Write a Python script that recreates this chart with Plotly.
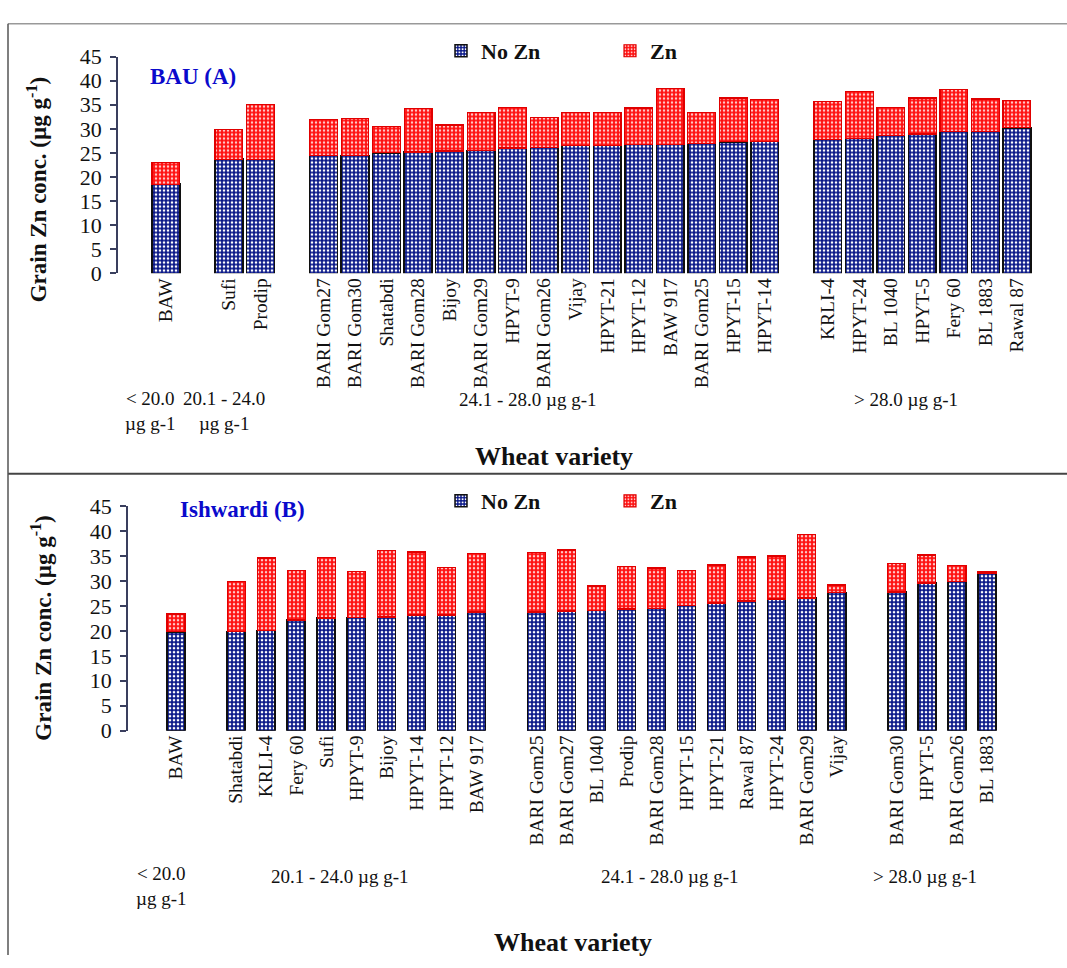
import plotly.graph_objects as go

# ---- data -------------------------------------------------------------
# BAU (A): varieties grouped by grain Zn concentration class (no Zn applied)
bau_groups = [1, 2, 15, 7]
bau_varieties = ["BAW", "Sufi", "Prodip",
                 "BARI Gom27", "BARI Gom30", "Shatabdi", "BARI Gom28", "Bijoy",
                 "BARI Gom29", "HPYT-9", "BARI Gom26", "Vijay", "HPYT-21",
                 "HPYT-12", "BAW 917", "BARI Gom25", "HPYT-15", "HPYT-14",
                 "KRLI-4", "HPYT-24", "BL 1040", "HPYT-5", "Fery 60", "BL 1883",
                 "Rawal 87"]
bau_no_zn = [18.5, 23.7, 23.7,
             24.5, 24.5, 25.0, 25.2, 25.4, 25.5, 26.0, 26.2, 26.5, 26.5,
             26.8, 26.8, 27.0, 27.3, 27.4,
             27.8, 28.0, 28.6, 28.9, 29.4, 29.5, 30.2]
bau_with_zn = [23.0, 29.9, 35.0,
               32.0, 32.1, 30.5, 34.2, 30.8, 33.3, 34.4, 32.4, 33.3, 33.3,
               34.3, 38.3, 33.4, 36.4, 36.0,
               35.6, 37.7, 34.5, 36.4, 38.2, 36.2, 35.8]
bau_classes = ["< 20.0<br>µg g-1", "20.1 - 24.0<br>µg g-1",
               "24.1 - 28.0 µg g-1", "> 28.0 µg g-1"]

# Ishwardi (B)
ish_groups = [1, 9, 11, 4]
ish_varieties = ["BAW",
                 "Shatabdi", "KRLI-4", "Fery 60", "Sufi", "HPYT-9", "Bijoy",
                 "HPYT-14", "HPYT-12", "BAW 917",
                 "BARI Gom25", "BARI Gom27", "BL 1040", "Prodip", "BARI Gom28",
                 "HPYT-15", "HPYT-21", "Rawal 87", "HPYT-24", "BARI Gom29", "Vijay",
                 "BARI Gom30", "HPYT-5", "BARI Gom26", "BL 1883"]
ish_no_zn = [19.8,
             19.9, 20.1, 22.2, 22.6, 22.7, 22.8, 23.2, 23.2, 23.8,
             23.8, 24.0, 24.1, 24.4, 24.5, 25.1, 25.6, 26.0, 26.4, 26.6, 27.7,
             27.8, 29.6, 29.9, 31.6]
ish_with_zn = [23.4,
               29.9, 34.6, 32.1, 34.7, 31.9, 36.1, 35.8, 32.7, 35.5,
               35.7, 36.2, 29.0, 32.9, 32.6, 32.1, 33.2, 34.8, 35.0, 39.4, 29.2,
               33.5, 35.2, 33.1, 31.8]
ish_classes = ["< 20.0<br>µg g-1", "20.1 - 24.0 µg g-1",
               "24.1 - 28.0 µg g-1", "> 28.0 µg g-1"]

y_ticks = [0, 5, 10, 15, 20, 25, 30, 35, 40, 45]

# ---- geometry helpers --------------------------------------------------
W, H = 1067, 968
SERIF = "Liberation Serif, Times New Roman, serif"
NAVY = "#0a1888"
RED = "#ff1010"


def px(x):
    return x / W


def py(y):
    return 1 - y / H


def slot_positions(groups):
    """Bar slots, leaving one empty slot between concentration classes."""
    pos, out = 0, []
    for n in groups:
        out.extend(range(pos, pos + n))
        pos += n + 1
    return out


bau_x = slot_positions(bau_groups)
ish_x = slot_positions(ish_groups)
bau_zn = [round(t - b, 2) for t, b in zip(bau_with_zn, bau_no_zn)]
ish_zn = [round(t - b, 2) for t, b in zip(ish_with_zn, ish_no_zn)]

fig = go.Figure()


def add_panel(xs, base, extra, xa, ya, legend, width):
    fig.add_trace(go.Bar(
        x=xs, y=base, name="No Zn", xaxis=xa, yaxis=ya, legend=legend,
        width=width,
        marker=dict(color=NAVY, line=dict(color="#101010", width=1.5),
                    pattern=dict(shape=".", fgcolor="white", fgopacity=1,
                                 size=4, solidity=0.35, fillmode="overlay")),
        hoverinfo="skip"))
    fig.add_trace(go.Bar(
        x=xs, y=extra, name="Zn", xaxis=xa, yaxis=ya, legend=legend,
        width=width,
        marker=dict(color=RED, line=dict(color="#e00000", width=1.2),
                    pattern=dict(shape=".", fgcolor="#ffc8c8", fgopacity=1,
                                 size=4, solidity=0.3, fillmode="overlay")),
        hoverinfo="skip"))


add_panel(bau_x, bau_no_zn, bau_zn, "x", "y", "legend", 0.88)
add_panel(ish_x, ish_no_zn, ish_zn, "x2", "y2", "legend2", 0.6)

tick_font = dict(family=SERIF, size=19.5, color="#111")
yaxis_common = dict(range=[0, 45], tickvals=y_ticks, showgrid=False,
                    zeroline=False, showline=True, linecolor="#3a3f5e",
                    linewidth=1.5, ticks="outside", ticklen=6,
                    tickcolor="#3a3f5e", tickwidth=1.5,
                    ticklabelstandoff=4,
                    tickfont=dict(family=SERIF, size=22, color="#111"),
                    fixedrange=True)
xaxis_common = dict(tickmode="array", tickangle=-90, showgrid=False,
                    zeroline=False, showline=False, ticks="",
                    tickfont=tick_font, fixedrange=True)

legend_common = dict(orientation="h", xanchor="left", yanchor="middle",
                     entrywidth=124, entrywidthmode="pixels",
                     font=dict(family=SERIF, size=22, color="#111",
                               weight="bold"),
                     bgcolor="rgba(0,0,0,0)", itemclick=False,
                     itemdoubleclick=False, traceorder="normal")

fig.update_layout(
    width=W, height=H,
    margin=dict(l=0, r=0, t=0, b=0),
    paper_bgcolor="white", plot_bgcolor="rgba(0,0,0,0)",
    barmode="stack",
    xaxis=dict(domain=[px(118), px(1050)], range=[-1.52, 28.05],
               tickvals=bau_x, ticktext=bau_varieties, anchor="y",
               **xaxis_common),
    yaxis=dict(domain=[py(268.3), py(45.7)], anchor="x", **yaxis_common),
    xaxis2=dict(domain=[px(128), px(1050)], range=[-1.6, 29.1],
                tickvals=ish_x, ticktext=ish_varieties, anchor="y2",
                **xaxis_common),
    yaxis2=dict(domain=[py(737.7), py(507.3)], anchor="x2", **yaxis_common),
    legend=dict(legend_common, x=px(441), y=py(40)),
    legend2=dict(legend_common, x=px(441), y=py(502)),
    showlegend=True,
)

annotations = []


def text(x, y, s, size, bold=False, color="#111", angle=0, align="center"):
    annotations.append(dict(
        x=px(x), y=py(y), xref="paper", yref="paper", text=s,
        showarrow=False, textangle=angle, align=align,
        xanchor="center", yanchor="middle",
        font=dict(family=SERIF, size=size, color=color,
                  weight="bold" if bold else "normal")))


# panel titles
text(193, 66, "BAU (A)", 23, bold=True, color="#0a0acc")
text(242, 511, "Ishwardi (B)", 23, bold=True, color="#0a0acc")

# y-axis titles
ytitle = "Grain Zn conc. (µg g<sup>-1</sup>)"
text(37, 183, ytitle, 23, bold=True, angle=-90)
text(42, 633, ytitle, 23, bold=True, angle=-90)

# concentration class labels
for (cx, cy), lab in zip([(150, 410), (224, 410), (528, 398), (906, 398)],
                         bau_classes):
    text(cx, cy, lab, 19)
for (cx, cy), lab in zip([(161, 897), (340, 887), (670, 887), (925, 887)],
                         ish_classes):
    text(cx, cy, lab, 19)

# x-axis titles
text(554, 456, "Wheat variety", 26, bold=True)
text(573, 955, "Wheat variety", 26, bold=True)

fig.update_layout(annotations=annotations)

# panel frames
frame = dict(type="line", xref="paper", yref="paper",
             line=dict(color="#555", width=1.5))
fig.update_layout(shapes=[
    dict(frame, x0=px(8), x1=1.0, y0=py(12), y1=py(12),
         line=dict(color="#999", width=1.5)),
    dict(frame, x0=px(8), x1=1.0, y0=py(474), y1=py(474),
         line=dict(color="#444", width=2)),
    dict(frame, x0=px(8), x1=px(8), y0=py(12), y1=0.0),
])

fig.write_html("out.html")
